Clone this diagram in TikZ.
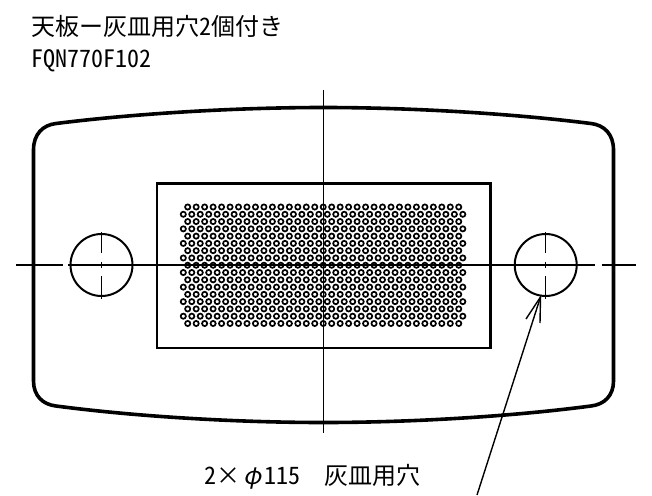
\documentclass[tikz,border=0pt]{standalone}
\usepackage{fontspec}
\usetikzlibrary{arrows.meta}
\newfontfamily\jpfont[RawFeature=+hwid]{Noto Sans CJK JP}
\newfontfamily\phifont[FakeSlant=0.2]{Noto Sans CJK JP}
\tikzset{
  outline/.style={line width=3.6pt,line join=round},
  plate/.style={line width=2.1pt},
  holecircle/.style={line width=2pt},
  centre/.style={line width=1.25pt},
  perf/.style={line width=1.7pt},
  leader/.style={line width=1.4pt},
  label/.style={anchor=west,inner sep=0pt,font=\jpfont\fontsize{24}{25}\selectfont},
}
\begin{document}
\begin{tikzpicture}[x=1pt,y=-1pt]
\useasboundingbox (0,0) rectangle (652,495);
% outer contour
\draw[outline] (33.5,150) .. controls (33.5,134) and (43,125) .. (56,123.5)
  .. controls (140,113) and (240,107.5) .. (323.5,107.5)
  .. controls (407,107.5) and (507,113) .. (591,123.5)
  .. controls (604,125) and (613.5,134) .. (613.5,150)
  -- (613.5,381)
  .. controls (613.5,396) and (604,404.5) .. (591,406)
  .. controls (507,417) and (407,422.5) .. (323.5,422.5)
  .. controls (240,422.5) and (140,417) .. (56,406)
  .. controls (43,404.5) and (33.5,396) .. (33.5,381)
  -- cycle;
% plate
\draw[plate] (157,183.5) rectangle (490.5,348);
% perforation
\foreach \r in {0,...,16}{
  \pgfmathsetmacro{\yy}{207+7.28*\r}
  \ifodd\r
    \foreach \c in {0,...,33}{
      \draw[perf] ({183.3+8.47*\c},\yy) circle (2.6);
    }
  \else
    \foreach \c in {0,...,32}{
      \draw[perf] ({187.7+8.47*\c},\yy) circle (2.6);
    }
  \fi
}
% centre lines
\draw[centre] (323.5,90) -- (323.5,433);
\draw[centre] (16,265) -- (63,265);
\draw[centre] (68,265) -- (595,265);
\draw[centre] (601.5,265) -- (636,265);
% ashtray holes
\foreach \cx in {101.5,545.7}{
  \draw[holecircle] (\cx,265) circle (31);
  \draw[centre,line width=1.4pt] (\cx,232) -- (\cx,253);
  \draw[centre,line width=1.4pt] (\cx,262) -- (\cx,268);
  \draw[centre,line width=1.4pt] (\cx,276) -- (\cx,298.5);
}
% leader
\coordinate (tip) at (540.5,297);
\coordinate (foot) at (477,495);
\draw[leader] (foot) -- (tip);
\coordinate (barbA) at (526,319);
\coordinate (barbB) at (540,323);
\draw[leader] (barbA) -- (tip) -- (barbB);
% texts
\node[label] (title) at (31,26.5) {天板ー灰皿用穴2個付き};
\node[label] (code) at (31,61) {FQN770F102};
\node[label] (note) at (204,477) {2×\makebox[24pt]{\phifont φ}115\hspace{24pt}灰皿用穴};
\end{tikzpicture}
\end{document}
